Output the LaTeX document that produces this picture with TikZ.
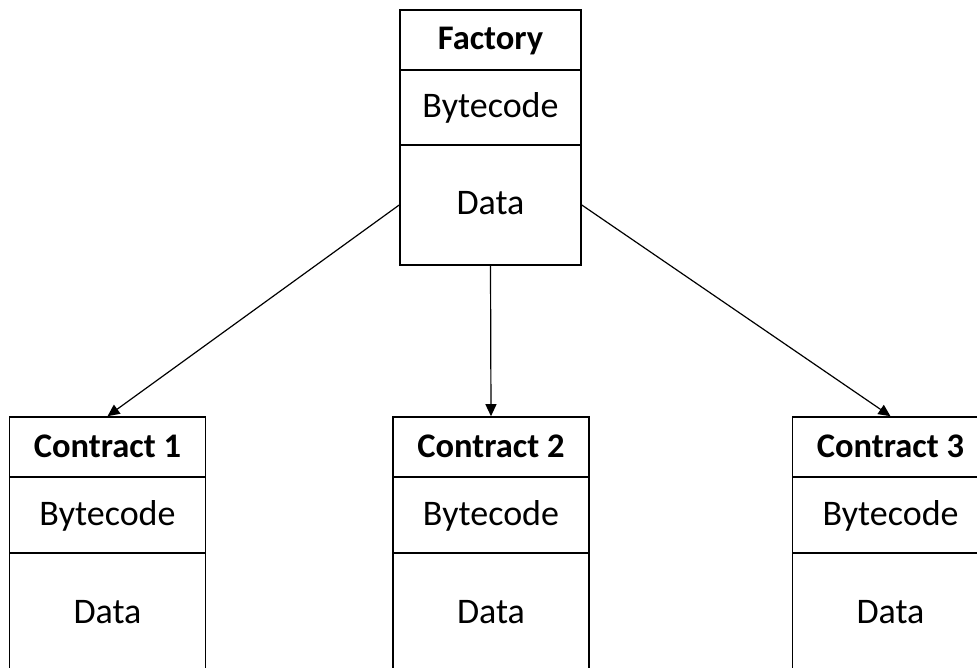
\documentclass[tikz,border=0pt]{standalone}
\usepackage{fontspec}
\setmainfont{Carlito}
\usetikzlibrary{arrows.meta}

\tikzset{
  cell/.style={draw=black, line width=1.6pt, minimum width=#1, inner sep=0pt,
               font=\fontsize{36}{40}\selectfont, text=black,
               text height=24pt, text depth=4pt},
  titlecell/.style={cell=#1, minimum height=60pt, font=\fontsize{34.5}{40}\selectfont\bfseries},
  codecell/.style={cell=#1, minimum height=76pt},
  datacell/.style={cell=#1, minimum height=120pt},
  link/.style={draw=black, line width=1.2pt, -{Triangle[length=12pt,width=11pt]}}
}

\begin{document}
\begin{tikzpicture}[x=1pt, y=-1pt]
  \useasboundingbox (0,0) rectangle (977,668);
  \clip (0,0) rectangle (977,668);

  % Factory contract
  \node[titlecell=181pt] (ftitle) at (490.5,40)  {Factory};
  \node[codecell=181pt, minimum height=75pt] (fcode) at (490.5,107.5) {Bytecode};
  \node[datacell=181pt] (fdata) at (490.5,205) {Data};

  % Deployed contracts
  \foreach \i/\cx in {1/107.5, 2/491, 3/890.5} {
    \node[titlecell=196pt] (c\i title) at (\cx,447) {Contract \i};
    \node[codecell=196pt]  (c\i code)  at (\cx,515) {Bytecode};
    \node[datacell=196pt]  (c\i data)  at (\cx,613) {Data};
  }

  % Factory creates each contract
  \draw[link] (fdata.west)  -- (c1title.north);
  \draw[link] (fdata.south) -- (c2title.north);
  \draw[link] (fdata.east)  -- (c3title.north);
\end{tikzpicture}
\end{document}
